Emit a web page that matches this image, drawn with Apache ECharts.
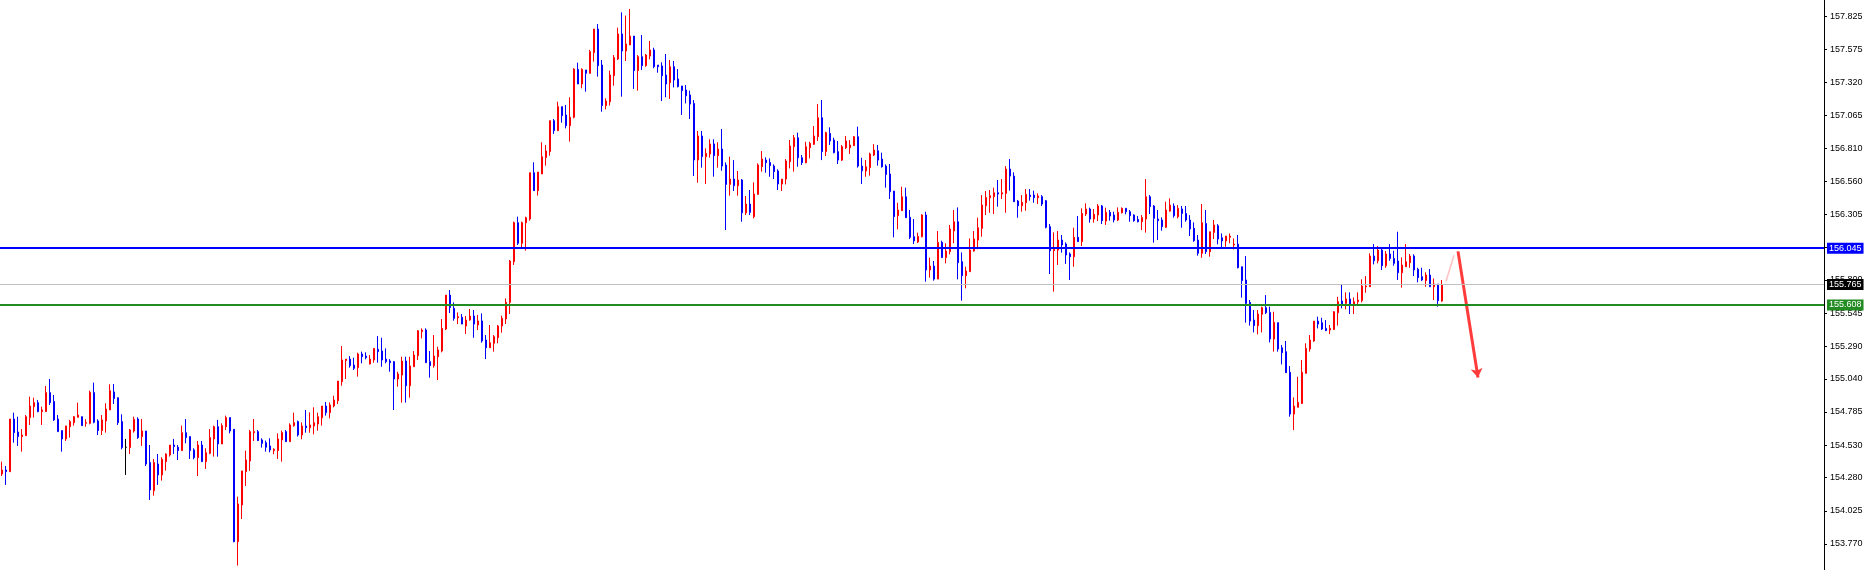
<!DOCTYPE html>
<html>
<head>
<meta charset="utf-8">
<script src="https://cdn.jsdelivr.net/npm/echarts@6/dist/echarts.min.js"></script>
<style>
html,body{margin:0;padding:0;background:#fff;}
#chart{width:1872px;height:570px;}
</style>
</head>
<body>
<div id="chart"></div>
<script>
// ---- data ----
const opens = [
154.308,154.339,154.326,154.731,154.631,154.596,154.603,154.742,154.826,154.857,
154.788,154.788,154.934,154.865,154.731,154.642,154.578,154.672,154.703,154.744,
154.749,154.698,154.698,154.934,154.716,154.642,154.716,154.801,154.939,154.895,
154.711,154.514,154.511,154.639,154.731,154.596,154.639,154.396,154.180,154.385,
154.301,154.403,154.455,154.531,154.514,154.488,154.626,154.596,154.493,154.434,
154.531,154.403,154.467,154.578,154.672,154.539,154.672,154.742,154.652,153.788,
154.070,154.326,154.408,154.626,154.634,154.570,154.549,154.524,154.488,154.488,
154.570,154.634,154.557,154.680,154.711,154.608,154.677,154.664,154.677,154.693,
154.741,154.831,154.780,154.831,154.872,155.018,155.180,155.192,155.146,155.126,
155.231,155.215,155.154,155.185,155.267,155.254,155.192,155.177,155.172,155.039,
155.069,155.177,154.987,155.133,155.218,155.403,155.415,155.172,155.141,155.210,
155.254,155.423,155.684,155.582,155.510,155.513,155.446,155.492,155.523,155.454,
155.485,155.338,155.279,155.313,155.356,155.446,155.500,155.628,155.941,156.241,
156.082,156.241,156.269,156.625,156.487,156.615,156.741,156.787,157.025,156.948,
157.133,157.069,156.987,157.051,157.420,157.307,157.415,157.389,157.548,157.730,
157.453,157.141,157.171,157.371,157.499,157.692,157.561,157.607,157.676,157.410,
157.517,157.448,157.522,157.569,157.453,157.446,157.376,157.317,157.440,157.346,
157.292,157.261,157.223,157.158,156.723,156.907,156.748,156.769,156.846,156.756,
156.807,156.684,156.535,156.576,156.525,156.569,156.317,156.384,156.287,156.458,
156.671,156.722,156.704,156.676,156.638,156.538,156.576,156.710,156.825,156.894,
156.740,156.702,156.817,156.843,156.902,157.048,156.787,156.927,156.876,156.787,
156.722,156.817,156.817,156.833,156.902,156.676,156.638,156.664,156.761,156.794,
156.730,156.676,156.615,156.484,156.294,156.333,156.440,156.282,156.133,156.092,
156.133,156.300,155.877,155.907,155.807,156.089,155.972,156.018,156.177,156.248,
155.941,155.833,155.864,156.023,156.107,156.197,156.371,156.433,156.441,156.471,
156.461,156.466,156.653,156.599,156.407,156.371,156.394,156.453,156.453,156.433,
156.441,156.410,156.210,156.025,156.030,156.107,156.077,156.000,155.979,156.128,
156.095,156.307,156.346,156.269,156.300,156.369,156.253,156.320,156.300,156.261,
156.317,156.351,156.325,156.300,156.266,156.248,156.269,156.440,156.369,156.269,
156.261,156.205,156.330,156.369,156.287,156.346,156.312,156.261,156.197,156.107,
156.005,156.235,156.018,156.166,156.217,156.125,156.100,156.128,156.069,156.076,
155.902,155.800,155.628,155.492,155.449,155.536,155.587,155.551,155.346,155.472,
155.279,155.249,155.090,154.769,154.821,154.851,155.082,155.269,155.331,155.484,
155.472,155.428,155.415,155.420,155.548,155.638,155.620,155.654,155.615,155.633,
155.641,155.748,155.748,155.984,155.948,156.030,155.910,156.000,155.966,155.946,
155.856,155.902,155.933,155.984,155.882,155.825,155.795,155.838,155.748,155.769,155.638
];
const closes = [
154.339,154.326,154.731,154.626,154.596,154.608,154.749,154.831,154.857,154.788,
154.801,154.934,154.857,154.724,154.634,154.578,154.678,154.711,154.749,154.762,
154.680,154.703,154.936,154.706,154.642,154.724,154.808,154.949,154.888,154.703,
154.511,154.514,154.647,154.729,154.588,154.639,154.385,154.185,154.396,154.301,
154.421,154.462,154.531,154.519,154.488,154.626,154.588,154.488,154.434,154.531,
154.403,154.472,154.588,154.672,154.539,154.680,154.742,154.639,153.788,154.078,
154.332,154.416,154.634,154.634,154.565,154.544,154.514,154.493,154.498,154.578,
154.626,154.557,154.685,154.703,154.608,154.677,154.664,154.685,154.703,154.749,
154.831,154.780,154.839,154.877,155.023,155.185,155.192,155.141,155.121,155.231,
155.210,155.203,155.192,155.274,155.249,155.185,155.172,155.164,155.039,155.077,
155.177,154.987,155.139,155.223,155.410,155.415,155.164,155.141,155.215,155.262,
155.428,155.684,155.588,155.505,155.518,155.461,155.492,155.523,155.461,155.485,
155.331,155.279,155.318,155.364,155.446,155.505,155.628,155.946,156.241,156.082,
156.241,156.279,156.625,156.487,156.630,156.748,156.792,157.025,156.948,157.133,
157.064,156.987,157.051,157.422,157.307,157.420,157.389,157.556,157.730,157.448,
157.141,157.176,157.376,157.510,157.692,157.561,157.615,157.676,157.410,157.517,
157.448,157.530,157.569,157.440,157.440,157.371,157.307,157.440,157.338,157.287,
157.256,157.217,157.153,156.723,156.907,156.748,156.774,156.846,156.756,156.807,
156.676,156.535,156.576,156.525,156.569,156.317,156.384,156.320,156.461,156.684,
156.730,156.702,156.679,156.633,156.538,156.576,156.715,156.830,156.894,156.740,
156.702,156.825,156.851,156.907,157.048,156.787,156.933,156.869,156.779,156.722,
156.825,156.869,156.838,156.902,156.676,156.640,156.671,156.769,156.799,156.722,
156.671,156.612,156.479,156.287,156.338,156.440,156.279,156.128,156.100,156.135,
156.300,155.877,155.907,155.807,156.089,155.972,156.023,156.192,156.248,155.933,
155.833,155.869,156.030,156.115,156.202,156.376,156.435,156.448,156.471,156.461,
156.471,156.653,156.599,156.402,156.371,156.397,156.458,156.441,156.433,156.446,
156.384,156.205,156.025,156.036,156.107,156.069,155.992,155.979,156.128,156.095,
156.312,156.346,156.269,156.305,156.369,156.256,156.320,156.292,156.261,156.320,
156.351,156.325,156.294,156.256,156.248,156.279,156.440,156.364,156.274,156.256,
156.210,156.338,156.376,156.294,156.351,156.312,156.261,156.192,156.102,156.005,
156.240,156.018,156.171,156.223,156.115,156.100,156.138,156.138,156.076,155.895,
155.795,155.620,155.484,155.449,155.538,155.587,155.548,155.346,155.474,155.269,
155.241,155.087,154.769,154.831,154.859,155.090,155.274,155.338,155.484,155.461,
155.423,155.410,155.428,155.556,155.633,155.615,155.654,155.615,155.633,155.646,
155.754,155.754,155.984,155.948,156.030,155.910,156.000,155.966,155.928,155.856,
155.915,155.941,155.984,155.877,155.818,155.800,155.838,155.748,155.769,155.641,155.765
];
const lows = [
154.293,154.224,154.326,154.549,154.524,154.480,154.603,154.685,154.742,154.783,
154.685,154.788,154.839,154.716,154.634,154.480,154.562,154.588,154.680,154.744,
154.680,154.672,154.690,154.698,154.608,154.608,154.626,154.801,154.847,154.685,
154.498,154.301,154.462,154.626,154.578,154.524,154.370,154.109,154.142,154.224,
154.257,154.334,154.442,154.462,154.416,154.488,154.544,154.424,154.421,154.293,
154.403,154.347,154.460,154.442,154.442,154.539,154.647,154.621,153.783,153.604,
153.962,154.216,154.332,154.562,154.562,154.511,154.480,154.475,154.460,154.424,
154.403,154.557,154.557,154.672,154.596,154.575,154.626,154.626,154.613,154.641,
154.680,154.757,154.736,154.821,154.846,154.987,155.039,155.126,155.108,155.057,
155.159,155.190,155.151,155.164,155.164,155.133,155.159,155.095,154.800,154.980,
154.857,154.857,154.895,155.133,155.185,155.351,155.164,155.049,155.126,155.031,
155.244,155.415,155.546,155.487,155.461,155.461,155.385,155.487,155.356,155.415,
155.318,155.192,155.279,155.249,155.313,155.395,155.462,155.539,155.915,156.069,
156.051,156.026,156.256,156.487,156.449,156.615,156.679,156.756,156.923,156.948,
157.010,156.966,156.864,157.043,157.307,157.274,157.248,157.389,157.479,157.364,
157.094,157.112,157.141,157.294,157.492,157.210,157.484,157.607,157.269,157.256,
157.415,157.440,157.497,157.428,157.394,157.176,157.205,157.192,157.281,157.281,
157.069,157.158,157.038,156.600,156.548,156.664,156.538,156.741,156.595,156.664,
156.640,156.184,156.448,156.484,156.448,156.248,156.300,156.300,156.274,156.458,
156.633,156.625,156.594,156.576,156.492,156.484,156.535,156.658,156.633,156.671,
156.684,156.697,156.735,156.838,156.869,156.722,156.753,156.838,156.774,156.692,
156.715,156.807,156.769,156.830,156.664,156.538,156.594,156.602,156.753,156.679,
156.664,156.510,156.423,156.128,156.189,156.333,156.279,156.115,156.077,156.084,
156.128,155.787,155.818,155.795,155.807,155.972,155.928,155.997,156.082,155.805,
155.641,155.736,155.864,156.018,156.036,156.133,156.300,156.317,156.307,156.364,
156.423,156.317,156.487,156.402,156.279,156.325,156.333,156.410,156.394,156.384,
156.369,156.197,155.846,155.710,155.915,156.010,155.923,155.800,155.902,156.095,
156.061,156.292,156.241,156.241,156.253,156.230,156.223,156.256,156.243,156.253,
156.312,156.305,156.248,156.248,156.243,156.184,156.164,156.307,156.087,156.107,
156.179,156.202,156.325,156.279,156.274,156.202,156.248,156.138,156.094,155.987,
155.971,156.000,155.979,156.115,156.074,156.051,156.056,156.082,156.035,155.889,
155.664,155.472,155.449,155.397,155.382,155.397,155.538,155.320,155.249,155.249,
155.151,155.087,154.749,154.646,154.821,154.846,155.082,155.249,155.325,155.428,
155.415,155.408,155.384,155.415,155.449,155.582,155.574,155.538,155.538,155.615,
155.628,155.702,155.748,155.920,155.928,155.877,155.894,155.948,155.910,155.800,
155.741,155.902,155.894,155.830,155.782,155.792,155.748,155.748,155.646,155.595,155.633
];
const highs = [
154.403,154.370,154.731,154.780,154.749,154.654,154.762,154.903,154.895,154.877,
154.826,154.985,155.039,154.916,154.762,154.642,154.678,154.724,154.754,154.857,
154.749,154.729,154.949,155.011,154.729,154.762,154.852,154.998,155.000,154.895,
154.767,154.578,154.654,154.749,154.744,154.731,154.639,154.531,154.424,154.462,
154.437,154.467,154.531,154.578,154.531,154.680,154.731,154.596,154.506,154.562,
154.562,154.506,154.654,154.680,154.724,154.698,154.757,154.742,154.652,154.134,
154.332,154.488,154.647,154.731,154.647,154.583,154.565,154.583,154.506,154.621,
154.642,154.647,154.698,154.780,154.719,154.705,154.800,154.782,154.821,154.780,
154.831,154.862,154.859,154.910,155.023,155.292,155.192,155.215,155.203,155.241,
155.249,155.244,155.223,155.274,155.369,155.356,155.274,155.192,155.177,155.095,
155.210,155.210,155.210,155.254,155.415,155.428,155.428,155.254,155.377,155.287,
155.500,155.684,155.723,155.628,155.551,155.538,155.523,155.577,155.569,155.531,
155.543,155.377,155.454,155.377,155.454,155.526,155.659,155.954,156.249,156.287,
156.249,156.287,156.625,156.705,156.630,156.859,156.838,157.025,157.038,157.171,
157.133,157.146,157.205,157.428,157.471,157.428,157.415,157.569,157.730,157.768,
157.492,157.197,157.410,157.530,157.740,157.858,157.833,157.884,157.676,157.530,
157.684,157.538,157.638,157.586,157.453,157.474,157.538,157.492,157.484,157.422,
157.292,157.299,157.256,157.184,156.946,156.946,156.812,156.882,156.882,156.859,
156.961,156.704,156.748,156.722,156.638,156.576,156.446,156.492,156.551,156.697,
156.792,156.743,156.735,156.689,156.651,156.576,156.730,156.876,156.915,156.933,
156.761,156.863,156.863,156.984,157.153,157.184,156.940,156.974,156.894,156.869,
156.838,156.907,156.876,156.907,156.979,156.740,156.722,156.779,156.845,156.838,
156.779,156.689,156.692,156.484,156.394,156.517,156.510,156.338,156.269,156.164,
156.305,156.325,155.972,155.946,156.177,156.102,156.082,156.223,156.338,156.358,
156.012,155.902,156.120,156.177,156.279,156.453,156.484,156.492,156.510,156.569,
156.576,156.676,156.730,156.628,156.415,156.453,156.499,156.499,156.487,156.466,
156.453,156.415,156.230,156.166,156.177,156.146,156.089,156.012,156.202,156.292,
156.351,156.389,156.356,156.346,156.384,156.376,156.356,156.338,156.325,156.358,
156.358,156.351,156.338,156.305,156.292,156.299,156.576,156.453,156.376,156.338,
156.281,156.402,156.428,156.389,156.376,156.369,156.369,156.299,156.243,156.146,
156.384,156.338,156.171,156.261,156.230,156.158,156.138,156.158,156.120,156.146,
155.902,155.984,155.646,155.569,155.569,155.595,155.684,155.595,155.556,155.472,
155.300,155.331,155.138,154.897,155.056,155.185,155.313,155.377,155.484,155.518,
155.510,155.492,155.454,155.561,155.671,155.766,155.705,155.705,155.666,155.705,
155.805,155.830,156.005,156.076,156.061,156.043,156.023,156.076,156.025,156.171,
155.974,156.076,156.000,155.997,155.894,155.894,155.859,155.884,155.812,155.769,155.800
];
// price ticks shown on the right scale
const tickValues = [153.770,154.025,154.280,154.530,154.785,155.040,155.290,155.545,155.800,156.050,156.305,156.560,156.810,157.065,157.320,157.575,157.825];
// horizontal levels: resistance, bid, support
const resistanceLevel = 156.045;
const bidLevel = 155.765;
const supportLevel = 155.608;
// projected path annotation: [bar slot, price]
const projectionUp = [[361, 155.79], [363, 155.99]];
const projectionDown = [[364, 156.02], [369, 155.05]];
// total bar slots on the time axis (incl. empty right shift)
const slotCount = 456;
const categories = Array.from({length: slotCount}, (_, i) => String(i + 1));
const yMin = 153.570, yMax = 157.953;

const candles = opens.map((o, i) => [o, closes[i], lows[i], highs[i]]);

const chart = echarts.init(document.getElementById('chart'), null, {renderer: 'canvas'});
const fontFamily = '"Liberation Sans", Arial, sans-serif';
function levelLabel(bg, value) {
  return {
    show: true, position: 'end', distance: 3,
    formatter: () => value.toFixed(3),
    backgroundColor: bg, color: '#ffffff',
    fontFamily: fontFamily, fontSize: 9, lineHeight: 10,
    padding: [1, 2, 0, 2]
  };
}
chart.setOption({
  animation: false,
  backgroundColor: '#ffffff',
  grid: {left: 0, right: 48, top: 0, bottom: 0, containLabel: false},
  xAxis: {
    type: 'category', data: categories, boundaryGap: true,
    axisLine: {show: false}, axisTick: {show: false}, axisLabel: {show: false},
    splitLine: {show: false}
  },
  yAxis: {
    type: 'value', position: 'right', min: yMin, max: yMax, scale: true,
    splitLine: {show: false},
    axisLine: {show: true, lineStyle: {color: '#000000', width: 1}},
    axisTick: {show: true, length: 3, lineStyle: {color: '#000000'}, customValues: tickValues},
    axisLabel: {
      show: true, margin: 6, color: '#000000', fontSize: 9, fontFamily: fontFamily,
      customValues: tickValues, formatter: v => Number(v).toFixed(3)
    }
  },
  series: [{
    type: 'candlestick',
    data: candles,
    barWidth: 2,
    itemStyle: {
      color: '#ff0000', color0: '#0000ff',
      borderColor: '#ff0000', borderColor0: '#0000ff',
      borderColorDoji: '#000000', borderWidth: 1
    },
    markLine: {
      silent: true, animation: false, symbol: ['none', 'none'], precision: 3,
      data: [
        [{coord: projectionUp[0], symbol: 'none', lineStyle: {color: 'rgba(255,80,80,0.35)', width: 1.5, type: 'solid'}, label: {show: false}},
         {coord: projectionUp[1], symbol: 'none'}],
        [{coord: projectionDown[0], symbol: 'none', lineStyle: {color: '#ff3b3b', width: 3, type: 'solid'}, label: {show: false}},
         {coord: projectionDown[1], symbol: 'arrow', symbolSize: 9}],
        {yAxis: bidLevel, lineStyle: {color: '#c0c0c0', width: 1, type: 'solid'}, label: levelLabel('#000000', bidLevel)},
        {yAxis: resistanceLevel, lineStyle: {color: '#0000ff', width: 2, type: 'solid'}, label: levelLabel('#0000ff', resistanceLevel)},
        {yAxis: supportLevel, lineStyle: {color: '#228b22', width: 2, type: 'solid'}, label: levelLabel('#228b22', supportLevel)}
      ]
    }
  }]
});
</script>
</body>
</html>
